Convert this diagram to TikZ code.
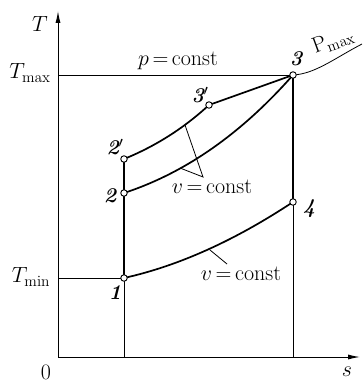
\RequirePackage{fix-cm}
\documentclass[tikz,border=0pt]{standalone}
\usetikzlibrary{arrows.meta}
\begin{document}
\begin{tikzpicture}[x=1pt,y=-1pt,
  thinln/.style={line width=0.8pt},
  axisln/.style={line width=1pt,-{Latex[length=12pt,width=5pt]}},
  procln/.style={line width=1.7pt},
  midln/.style={line width=1.3pt},
  pt/.style={circle,draw,fill=white,line width=0.9pt,inner sep=0pt,minimum size=6.5pt},
  lbl/.style={inner sep=0pt,font=\fontsize{22}{26}\selectfont},
  numlbl/.style={lbl,font=\fontsize{21}{25}\selectfont\bfseries\itshape}]
\useasboundingbox (0,0) rectangle (362,382);
% axes
\coordinate (O) at (58,357);
\coordinate (Ty) at (58,11);
\coordinate (Sx) at (360,357);
\draw[axisln] (O) -- (Ty);
\draw[axisln] (O) -- (Sx);
% state points
\coordinate (p1) at (124,278);
\coordinate (p2) at (124,193);
\coordinate (p2b) at (124,159);
\coordinate (p3b) at (209,105);
\coordinate (p3) at (293,75);
\coordinate (p4) at (293,202);
\coordinate (b1) at (124,357);
\coordinate (b4) at (293,357);
\coordinate (tmax) at (58,75);
\coordinate (tmin) at (58,278);
\coordinate (pm) at (362,44);
% thin guide lines
\draw[thinln] (tmax) -- (p3);
\draw[thinln] (tmin) -- (p1);
\draw[thinln] (b1) -- (p1);
\draw[thinln] (b4) -- (p4);
% processes
\draw[midln] (p1) -- (p2b);
\draw[procln] (p4) -- (p3);
\draw[procln] (p1) .. controls (178,266) and (234,241) .. (p4);
\draw[procln] (p2) .. controls (185,173) and (241,134) .. (p3);
\draw[procln] (p2b) .. controls (156,146) and (184,128) .. (p3b);
\draw[procln] (p3b) -- (p3);
\draw[thinln] (p3) .. controls (315,74) and (335,58) .. (pm);
% leaders
\coordinate (la) at (185,125);
\coordinate (lv) at (203,177);
\coordinate (lb) at (180,168);
\draw[thinln] (la) -- (lv) -- (lb);
\coordinate (lc) at (210,250);
\coordinate (ld) at (227,264);
\draw[thinln] (lc) -- (ld);
% point markers
\foreach \q in {p1,p2,p2b,p3b,p3,p4} \node[pt] (n\q) at (\q) {};
% labels
\node[lbl] (lT) at (40,24) {$T$};
\node[lbl] (lTmax) at (30,73) {$T_{\max}$};
\node[lbl] (lTmin) at (31,277) {$T_{\min}$};
\node[lbl] (l0) at (46,372) {0};
\node[lbl] (ls) at (347,372) {$s$};
\node[lbl] (lp) at (178,61) {$p\mskip-2mu=\mskip-2mu\mathrm{const}$};
\node[numlbl] (l3) at (296,59) {3};
\node[numlbl] (l3b) at (200,95) {3$'$};
\node[numlbl] (l2b) at (115,147) {2$'$};
\node[numlbl] (l2) at (110,196) {2};
\node[numlbl] (l4) at (309,209) {4};
\node[numlbl] (l1) at (115,293) {1};
\node[lbl] (lv1) at (212,187) {$v\mskip-2mu=\mskip-2mu\mathrm{const}$};
\node[lbl] (lv2) at (241,274) {$v\mskip-2mu=\mskip-2mu\mathrm{const}$};
\node[lbl,rotate=20] (lpm) at (333,41) {$\mathrm{P}_{\max}$};
\end{tikzpicture}
\end{document}
